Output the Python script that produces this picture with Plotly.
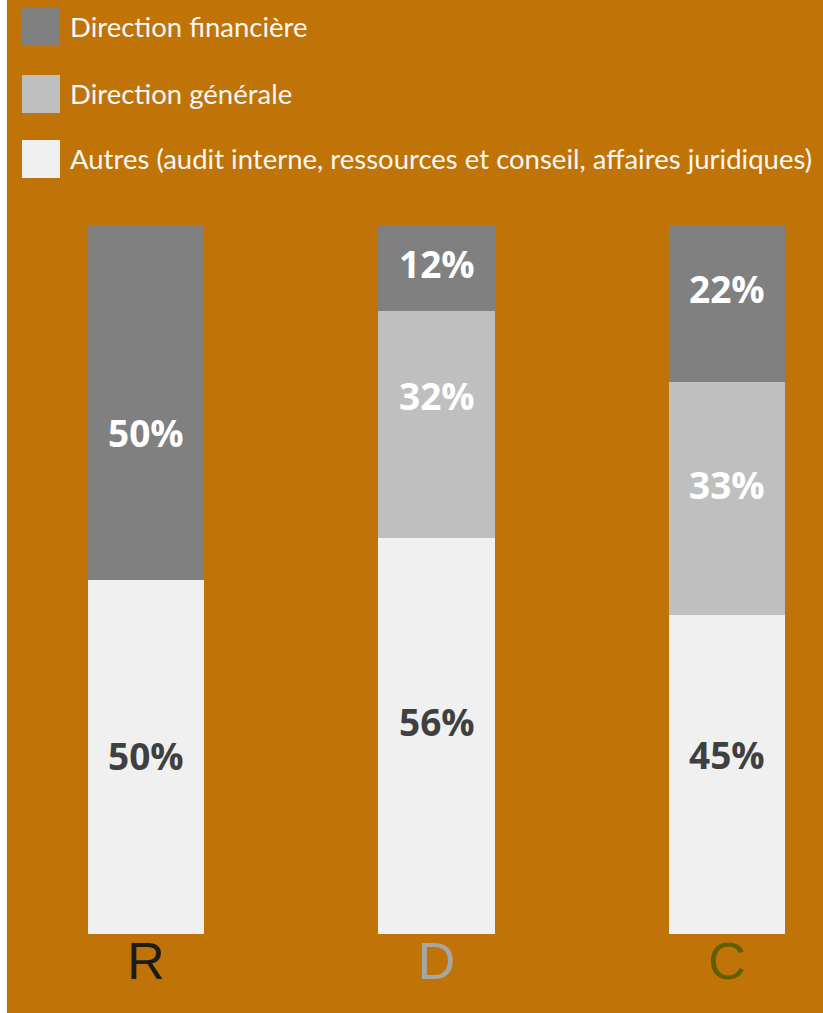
import plotly.graph_objects as go

# Stacked shares (%) per group
categories = ["R", "D", "C"]
autres = [50, 56, 45]
direction_generale = [0, 32, 33]
direction_financiere = [50, 12, 22]

series_names = [
    "Direction financière",
    "Direction générale",
    "Autres (audit interne, ressources et conseil, affaires juridiques)",
]

# Vertical nudge of each value label from its segment centre (px, + = down)
nudge_autres = [0, -12, -18]
nudge_generale = [0, -27, -12]
nudge_financiere = [31, -3, -13]

W, H = 823, 1013
MARGIN_B = 79
PLOT_H = H - MARGIN_B
BG = "#C07306"
C_FIN, C_GEN, C_AUT = "#808080", "#BFBFBF", "#F0F0F0"
CAT_COLORS = ["#1C1C1C", "#A6A6A6", "#5F5F00"]


# pixel -> paper helpers
def px_x(px):
    return px / W


def px_y(py):
    return (PLOT_H - py) / PLOT_H


x_idx = list(range(len(categories)))
step, x0 = 290.5, 146.0
px_per_pct = 7.08

fig = go.Figure()
annotations = []
base = [0] * len(categories)
label_font = dict(family="Open Sans", size=37)
for vals, nudges, color, tcolor, name in [
    (autres, nudge_autres, C_AUT, "#404040", series_names[2]),
    (direction_generale, nudge_generale, C_GEN, "#FFFFFF", series_names[1]),
    (direction_financiere, nudge_financiere, C_FIN, "#FFFFFF", series_names[0]),
]:
    fig.add_trace(go.Bar(
        x=x_idx, y=vals, name=name, width=0.4,
        marker=dict(color=color, line=dict(width=0)),
        hoverinfo="skip", showlegend=False,
    ))
    for i, v in enumerate(vals):
        if v:
            annotations.append(dict(
                x=x_idx[i], y=base[i] + v / 2, xref="x", yref="y",
                text=f"<b>{v}%</b>", showarrow=False,
                xanchor="center", yanchor="middle", yshift=-nudges[i] + 2,
                font=dict(color=tcolor, **label_font),
            ))
        base[i] += v

# Legend drawn as swatches + captions
legend_rows = [(C_FIN, series_names[0], 8), (C_GEN, series_names[1], 75), (C_AUT, series_names[2], 140)]
shapes = [dict(type="rect", xref="paper", yref="paper", x0=px_x(0), x1=px_x(7),
               y0=px_y(H), y1=px_y(0), fillcolor="#FFFFFF", line=dict(width=0), layer="above")]
for color, text, top in legend_rows:
    shapes.append(dict(type="rect", xref="paper", yref="paper",
                       x0=px_x(22), x1=px_x(60), y0=px_y(top + 38), y1=px_y(top),
                       fillcolor=color, line=dict(width=0)))
    annotations.append(dict(xref="paper", yref="paper", x=px_x(68), y=px_y(top + 19),
                            xanchor="left", yanchor="middle", showarrow=False, text=text,
                            font=dict(family="Lato", size=27.5, color="#F7F7F7")))

ticktext = [f'<span style="color:{c}">{t}</span>' for t, c in zip(categories, CAT_COLORS)]

fig.update_layout(
    width=W, height=H, barmode="stack",
    margin=dict(l=0, r=0, t=0, b=MARGIN_B),
    paper_bgcolor=BG, plot_bgcolor=BG,
    shapes=shapes, annotations=annotations,
    xaxis=dict(range=[-x0 / step, (W - x0) / step], tickvals=x_idx, ticktext=ticktext,
               showgrid=False, zeroline=False, showline=False, ticks="",
               ticklabelstandoff=-8,
               tickfont=dict(family="Liberation Sans", size=52)),
    yaxis=dict(range=[0, PLOT_H / px_per_pct], visible=False, showgrid=False),
)

fig.write_html("out.html")
